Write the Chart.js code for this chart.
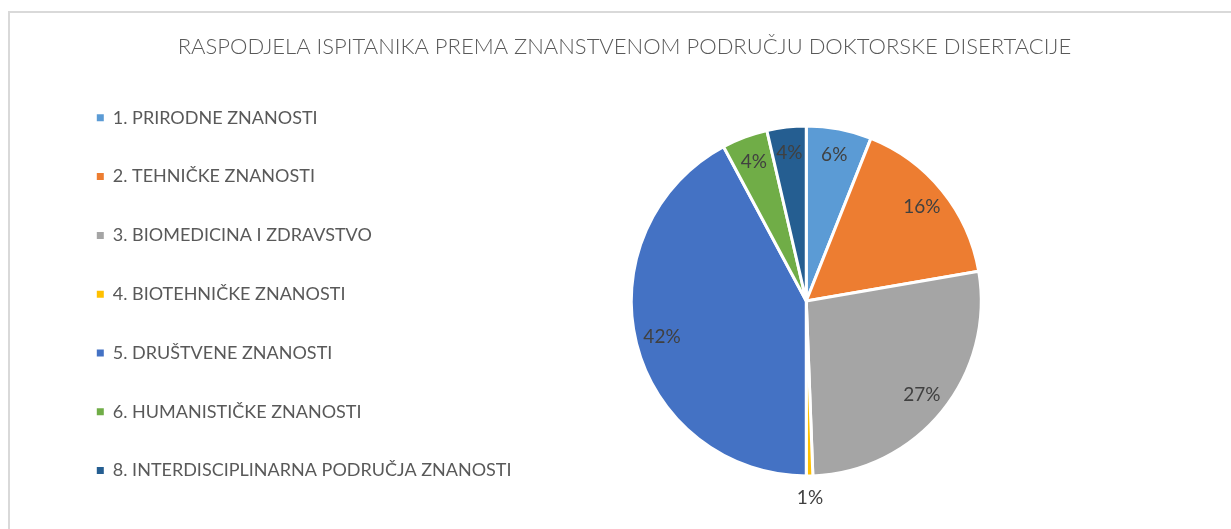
<!DOCTYPE html>
<html>
<head>
<meta charset="utf-8">
<script src="https://cdn.jsdelivr.net/npm/chart.js@4.4.1/dist/chart.umd.min.js"></script>
<style>
  html, body { margin: 0; padding: 0; background: #ffffff; overflow: hidden; }
  #wrap { position: relative; width: 1231px; height: 529px; overflow: hidden; background: #fff; }
  #frame { position: absolute; left: 8px; top: 11px; width: 1300px; height: 600px;
           border-left: 2px solid #d9d9d9; border-top: 2px solid #d9d9d9; box-sizing: border-box; }
  #c { position: absolute; left: 0; top: 0; }
</style>
</head>
<body>
<div id="wrap">
  <div id="frame"></div>
  <canvas id="c" width="1231" height="534"></canvas>
</div>
<script>
const chartTitle = 'RASPODJELA ISPITANIKA PREMA ZNANSTVENOM PODRUČJU DOKTORSKE DISERTACIJE';
const categories = [
  '1. PRIRODNE ZNANOSTI',
  '2. TEHNIČKE ZNANOSTI',
  '3. BIOMEDICINA I ZDRAVSTVO',
  '4. BIOTEHNIČKE ZNANOSTI',
  '5. DRUŠTVENE ZNANOSTI',
  '6. HUMANISTIČKE ZNANOSTI',
  '8. INTERDISCIPLINARNA PODRUČJA ZNANOSTI'
];
const counts = [10, 27, 45, 1, 70, 7, 6];
const sliceColors = ['#5B9BD5', '#ED7D31', '#A5A5A5', '#FFC000', '#4472C4', '#70AD47', '#255E91'];

const total = counts.reduce((a, b) => a + b, 0);

const titleDraw = {
  id: 'titleDraw',
  afterDraw(chart) {
    const ctx = chart.ctx;
    ctx.save();
    ctx.font = '300 22px Lato, "Open Sans", sans-serif';
    ctx.fillStyle = '#595959';
    ctx.textAlign = 'center';
    ctx.textBaseline = 'middle';
    ctx.fillText(chartTitle, 624.5, 47);
    ctx.restore();
  }
};

const pctLabels = {
  id: 'pctLabels',
  afterDatasetsDraw(chart) {
    const ctx = chart.ctx;
    const meta = chart.getDatasetMeta(0);
    ctx.save();
    ctx.font = '19px Lato, "Open Sans", sans-serif';
    ctx.fillStyle = '#404040';
    ctx.textAlign = 'center';
    ctx.textBaseline = 'middle';
    meta.data.forEach((arc, i) => {
      const p = arc.getProps(['x', 'y', 'startAngle', 'endAngle', 'outerRadius'], true);
      const pct = counts[i] / total * 100;
      const mid = (p.startAngle + p.endAngle) / 2;
      const r = pct < 2 ? p.outerRadius + 22 : p.outerRadius * 0.85;
      ctx.fillText(Math.round(pct) + '%', p.x + Math.cos(mid) * r, p.y + Math.sin(mid) * r);
    });
    ctx.restore();
  }
};

new Chart(document.getElementById('c'), {
  type: 'pie',
  data: {
    labels: categories,
    datasets: [{
      data: counts,
      backgroundColor: sliceColors,
      borderColor: '#ffffff',
      borderWidth: 3,
      radius: 175
    }]
  },
  options: {
    responsive: false,
    animation: false,
    layout: { padding: { left: 56, right: 140, top: 68, bottom: 0 } },
    plugins: {
      tooltip: { enabled: false },
      title: { display: false },
      legend: {
        position: 'left',
        align: 'start',
        fullSize: false,
        labels: {
          color: '#595959',
          font: { family: 'Lato, "Open Sans", sans-serif', size: 18 },
          boxWidth: 7,
          boxHeight: 7,
          padding: 40.8,
          generateLabels(chart) {
            return Chart.overrides.pie.plugins.legend.labels.generateLabels(chart).map(item => ({
              ...item,
              strokeStyle: item.fillStyle,
              lineWidth: 0
            }));
          }
        }
      }
    }
  },
  plugins: [pctLabels, titleDraw]
});
</script>
</body>
</html>
